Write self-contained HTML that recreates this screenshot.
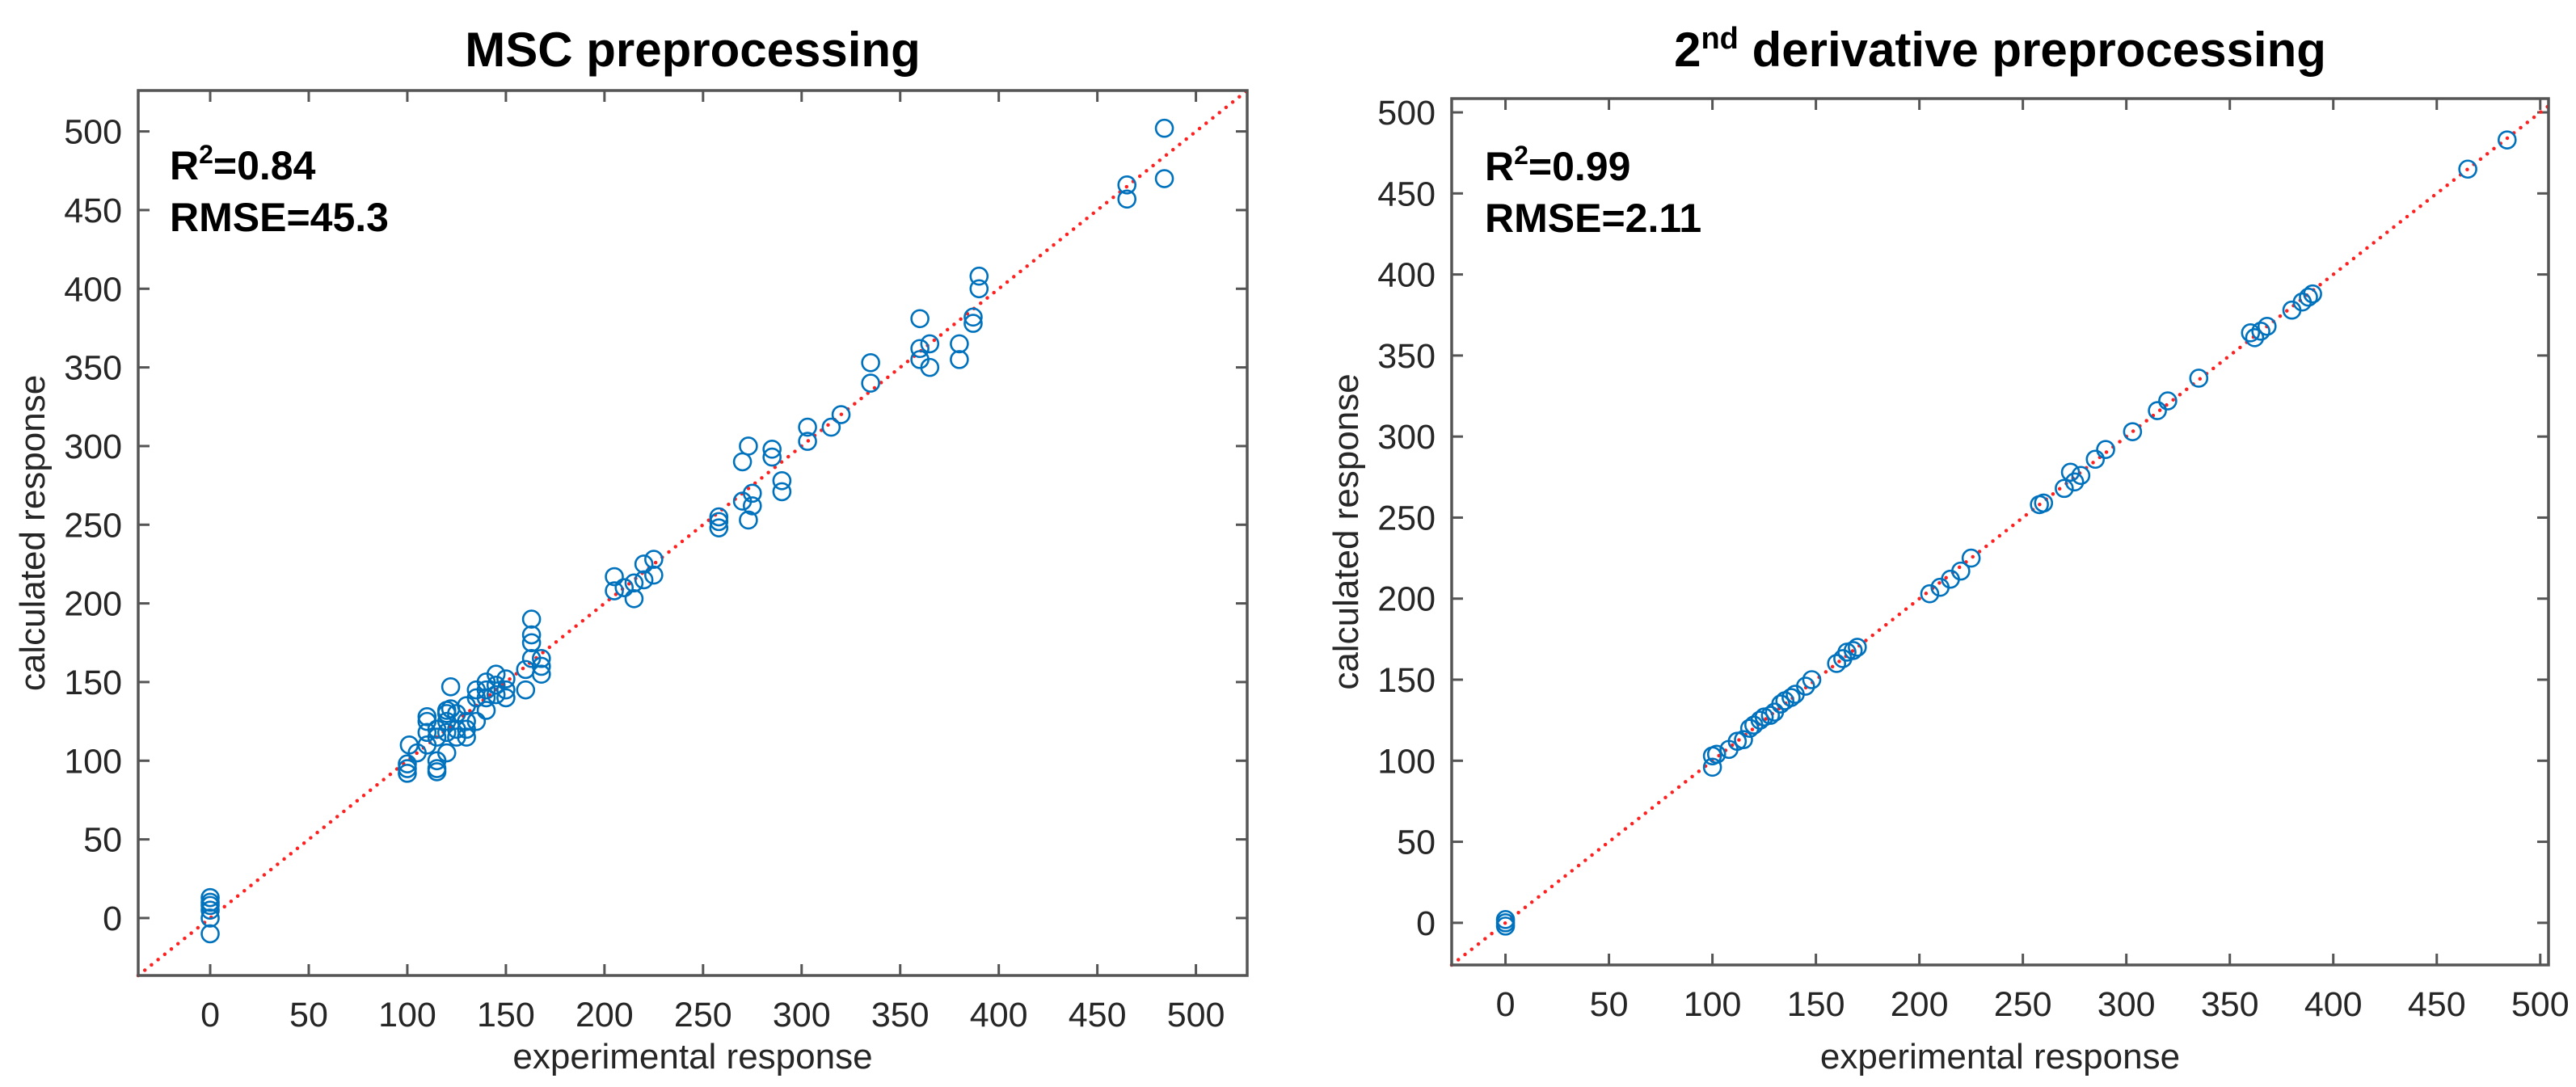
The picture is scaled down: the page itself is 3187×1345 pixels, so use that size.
<!DOCTYPE html>
<html><head><meta charset="utf-8"><style>
html,body{margin:0;padding:0;background:#fff;}
svg{display:block;}
</style></head><body>
<svg id="fig" width="3187" height="1345" viewBox="0 0 3187 1345" xmlns="http://www.w3.org/2000/svg" font-family="Liberation Sans, sans-serif">
</svg>
<script>
const NS='http://www.w3.org/2000/svg';
const svg=document.getElementById('fig');
// ---- data ----
const mscX=[0,0,0,0,0,0,100,100,100,101,105,110,110,110,110,115,115,115,115,115,120,120,120,120,120,122,122,125,125,125,130,130,130,130,135,135,135,140,140,140,140,145,145,145,150,150,150,160,160,163,163,163,163,168,168,168,205,205,210,215,215,220,220,225,225,258,258,258,270,270,273,273,275,275,285,285,290,290,303,303,315,320,335,335,360,360,360,365,365,380,380,387,387,390,390,465,465,484,484];
const mscY=[13,10,8,5,0,-10,92,95,98,110,105,110,118,125,128,95,93,100,115,120,125,118,105,130,132,147,133,130,120,115,120,115,125,135,140,145,125,145,150,132,140,155,148,142,152,145,140,145,158,165,175,180,190,155,160,165,217,208,210,203,213,225,215,218,228,248,252,255,290,265,300,253,270,262,298,293,278,271,312,303,312,320,353,340,381,355,362,365,350,365,355,378,382,408,400,466,457,502,470];
const derX=[0,0,0,100,100,102,108,112,115,118,120,123,125,128,130,133,135,138,140,145,148,160,163,165,168,170,205,210,215,220,225,258,260,270,273,275,278,285,290,303,315,320,335,360,362,365,368,380,385,388,390,465,484];
const derY=[2,-2,0,96,103,104,107,112,113,120,122,125,127,128,130,135,137,139,141,146,150,160,163,167,168,170,203,207,212,217,225,258,259,268,278,272,276,286,292,303,316,322,336,364,361,365,368,378,383,386,388,465,483];
const ticks=[0,50,100,150,200,250,300,350,400,450,500];

function el(tag,attrs,parent){const e=document.createElementNS(NS,tag);for(const k in attrs)e.setAttribute(k,attrs[k]);(parent||svg).appendChild(e);return e;}

function panel(cfg){
  const g=el('g',{});
  
  
  const L=cfg.box[0],T=cfg.box[1],R=cfg.box[2],B=cfg.box[3];
  const sx=v=>L+(v-cfg.xmin)/(cfg.xmax-cfg.xmin)*(R-L);
  const sy=v=>B-(v-cfg.ymin)/(cfg.ymax-cfg.ymin)*(B-T);
  const ax='#555';
  // ticks
  ticks.forEach(t=>{
    if(t>=cfg.xmin&&t<=cfg.xmax){
      const x=sx(t);
      el('line',{x1:x,y1:B,x2:x,y2:B-14,stroke:ax,'stroke-width':3},g);
      el('line',{x1:x,y1:T,x2:x,y2:T+14,stroke:ax,'stroke-width':3},g);
      const tx=el('text',{x:x,y:B+63,'text-anchor':'middle','font-size':43,fill:'#262626'},g);
      tx.textContent=t;
      
      
    }
    if(t>=cfg.ymin&&t<=cfg.ymax){
      const y=sy(t);
      el('line',{x1:L,y1:y,x2:L+14,y2:y,stroke:ax,'stroke-width':3},g);
      el('line',{x1:R,y1:y,x2:R-14,y2:y,stroke:ax,'stroke-width':3},g);
      const ty=el('text',{x:L-20,y:y+15,'text-anchor':'end','font-size':43,fill:'#262626'},g);
      ty.textContent=t;
      
      
    }
  });
  // diagonal
  const lo=Math.max(cfg.xmin,cfg.ymin),hi=Math.min(cfg.xmax,cfg.ymax);
  const d=el('line',{x1:sx(lo),y1:sy(lo),x2:sx(hi),y2:sy(hi),stroke:'#ff2020','stroke-width':4.5,'stroke-linecap':'round','stroke-dasharray':'0 10.5'},g);
  
  
  // points
  cfg.xs.forEach((xv,i)=>{
    const c=el('circle',{cx:sx(xv),cy:sy(cfg.ys[i]),r:10.5,fill:'none',stroke:'#0072BD','stroke-width':2.6},g);
    
    
  });
  // frame
  const f=el('rect',{x:L,y:T,width:R-L,height:B-T,fill:'none',stroke:ax,'stroke-width':3.5},g);
  
  
  // labels
  const xl=el('text',{x:(L+R)/2,y:1322,'text-anchor':'middle','font-size':44,fill:'#262626'},g);
  xl.textContent='experimental response';
  
  
  const yl=el('text',{x:0,y:0,'text-anchor':'middle','font-size':44,fill:'#262626',transform:`translate(${cfg.ylx},${(T+B)/2}) rotate(-90)`},g);
  yl.textContent='calculated response';
  
  
  const a1=el('text',{x:cfg.ann[0],y:cfg.ann[1],'font-size':50,'font-weight':'bold',fill:'#000'},g);
  a1.innerHTML='R<tspan dy="-20" font-size="32">2</tspan><tspan dy="20">='+cfg.r2+'</tspan>';
  
  
  const a2=el('text',{x:cfg.ann[0],y:cfg.ann[1]+64,'font-size':50,'font-weight':'bold',fill:'#000'},g);
  a2.textContent='RMSE='+cfg.rmse;
  
  
  const ti=el('text',{x:(L+R)/2,y:82,'text-anchor':'middle','font-size':60,'font-weight':'bold',fill:'#000'},g);
  ti.innerHTML=cfg.title;
  
  
}
panel({name:'msc-panel',box:[171,112,1543,1207],xmin:-36.5,xmax:526,ymin:-36.5,ymax:526,xs:mscX,ys:mscY,ylx:55,ann:[210,222],r2:'0.84',rmse:'45.3',title:'MSC preprocessing'});
panel({name:'derivative-panel',box:[1796,122,3153,1194],xmin:-26,xmax:504,ymin:-26,ymax:508.5,xs:derX,ys:derY,ylx:1680,ann:[1837,223],r2:'0.99',rmse:'2.11',title:'2<tspan dy="-22" font-size="38">nd</tspan><tspan dy="22"> derivative preprocessing</tspan>'});
</script>
</body></html>
